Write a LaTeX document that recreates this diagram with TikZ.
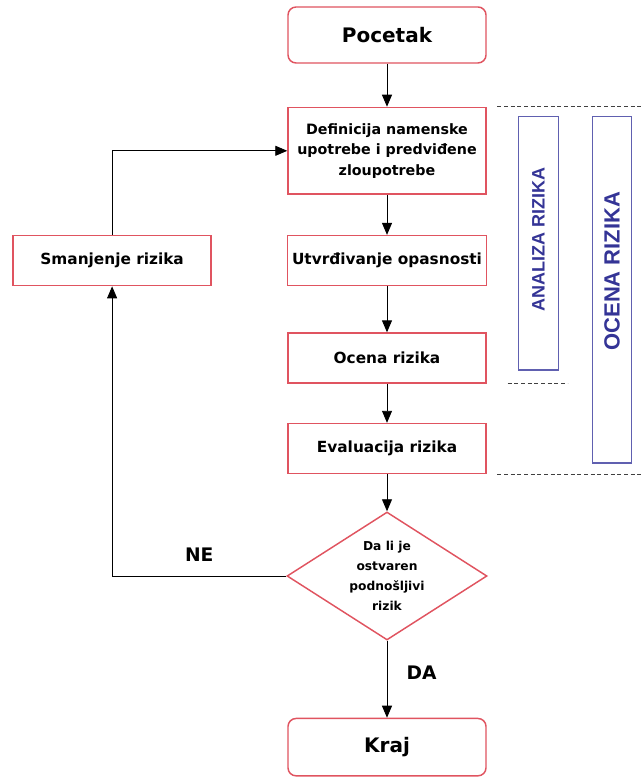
\documentclass[tikz,border=0pt]{standalone}
\usepackage{fontspec}
\setmainfont{DejaVu Sans}
\newfontfamily\phasefont{Liberation Sans}
\usetikzlibrary{shapes.geometric, arrows.meta, positioning, calc}
\definecolor{boxred}{RGB}{224,84,96}
\definecolor{phaseblue}{RGB}{96,96,176}
\definecolor{phasetextblue}{RGB}{52,52,150}

\begin{document}
\begin{tikzpicture}[node distance=32pt, >={Triangle[width=7.5pt,length=9pt]},
    block/.style={draw=boxred, line width=1.1pt, rectangle, fill=white, minimum width=148.5pt, minimum height=37.5pt, align=center, font=\bfseries\fontsize{11.5}{14}\selectfont},
    terminal/.style={block, rounded corners=6pt, minimum height=42pt, font=\bfseries\fontsize{15}{18}\selectfont},
    decision/.style={draw=boxred, line width=1.1pt, diamond, aspect=1.56, minimum width=150pt, minimum height=96pt, inner sep=0pt, align=center, font=\bfseries\fontsize{9.2}{15}\selectfont},
    phase/.style={draw=phaseblue, line width=1.1pt, rectangle, minimum width=30pt},
    phasetext/.style={rotate=90, text=phasetextblue, font=\phasefont\bfseries\fontsize{13.5}{16}\selectfont},
    line/.style={draw, line width=0.7pt},
    separator/.style={draw=black!75, line width=0.6pt, dash pattern=on 3pt off 2pt},
    answer/.style={font=\bfseries\fontsize{14}{17}\selectfont}]
      \useasboundingbox (0,0) rectangle (482.25pt,-585pt);

      % Main flow
      \node [terminal] (pocetak) at (290.25pt,-26.25pt) {Pocetak};
      \node [block, minimum height=65pt, below=32.25pt of pocetak, font=\bfseries\fontsize{10.7}{15.5}\selectfont] (definicija) {
        Definicija namenske\\
        upotrebe i predviđene\\
        zloupotrebe
      };
      \node [block, below=30pt of definicija] (utvrdjivanje) {Utvrđivanje opasnosti};
      \node [block, below=34.5pt of utvrdjivanje] (ocena) {Ocena rizika};
      \node [block, below=29.25pt of ocena] (evaluacija) {Evaluacija rizika};
      \node [decision, below=27.75pt of evaluacija] (odluka) {
        Da li je\\
        ostvaren\\
        podnošljivi\\
        rizik
      };
      \node [terminal, minimum height=43pt, below=57.75pt of odluka] (kraj) {Kraj};

      % Feedback
      \node [block, left=56.25pt of utvrdjivanje] (smanjenje) {Smanjenje rizika};

      % Phases
      \node [phase, minimum height=190pt, anchor=north west] (analiza) at ($(definicija.north east)+(23.25pt,-6.75pt)$) {};
      \node [phasetext] at ([yshift=3pt]analiza.center) {ANALIZA RIZIKA};
      \node [phase, minimum width=29.25pt, minimum height=260pt, anchor=north west] (ocenarizika) at ($(definicija.north east)+(78.75pt,-6.75pt)$) {};
      \node [phasetext, font=\phasefont\bfseries\fontsize{16.5}{19}\selectfont] at ([yshift=14pt]ocenarizika.center) {OCENA RIZIKA};

      \draw [separator] ([xshift=8pt]definicija.north east) -- ++(110pt,0);
      \draw [separator] ([xshift=15.75pt]ocena.south east) -- ++(45pt,0);
      \draw [separator] ([xshift=8pt]evaluacija.south east) -- ++(110pt,0);

      % Arrows
      \draw [line, ->] (pocetak) -- (definicija);
      \draw [line, ->] (definicija) -- (utvrdjivanje);
      \draw [line, ->] (utvrdjivanje) -- (ocena);
      \draw [line, ->] (ocena) -- (evaluacija);
      \draw [line, ->] (evaluacija) -- (odluka);
      \draw [line, ->] (odluka) -- node [answer, pos=0.41, right=11pt] {DA} (kraj);
      \draw [line, ->] (odluka.west) -| node [answer, pos=0.25, above=7pt] {NE} (smanjenje.south);
      \draw [line, ->] (smanjenje.north) |- (definicija.west);
    \end{tikzpicture}
\end{document}
